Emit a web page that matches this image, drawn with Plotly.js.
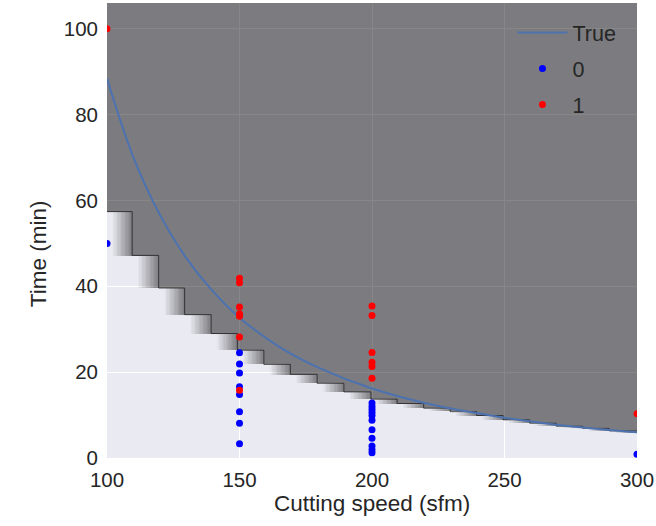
<!DOCTYPE html>
<html>
<head>
<meta charset="utf-8">
<script src="https://cdn.plot.ly/plotly-3.0.1.min.js"></script>
<style>
  html, body { margin: 0; padding: 0; background: #ffffff; }
  #chart { width: 656px; height: 526px; }
</style>
</head>
<body>
<div id="chart"></div>
<script>
// Step edges of the fitted decision boundary (cutting speed, sfm)
const stepEdges = [100, 109.5, 119.5, 129.3, 139.3, 149.2, 159.2, 169.2, 179.3, 189.4,
                   199.6, 209.5, 219.5, 229.5, 239.5, 249.5, 259.5, 269.5, 279.5, 289.5, 300];
// Boundary level (time, min) on each step
const stepLevels = [57.4, 47.2, 39.6, 33.4, 29.0, 25.1, 21.8, 19.5, 17.4, 15.4,
                    13.7, 12.7, 11.6, 10.8, 9.9, 8.9, 8.1, 7.4, 6.9, 6.3];
const stepFloor = 5.8;

// True tool-life curve
const trueSpeed = [100, 110, 120, 130, 140, 150, 165, 180, 200, 225, 250, 275, 300];
const trueTime  = [88.4, 70.0, 56.6, 46.5, 38.8, 32.7, 25.9, 21.0, 16.2, 12.1, 9.4, 7.4, 6.0];

// Observations, class 0
const class0Speed = [100,
  150, 150, 150, 150, 150, 150, 150, 150,
  200, 200, 200, 200, 200, 200, 200, 200, 200, 200, 200,
  300];
const class0Time = [50,
  24.5, 21.9, 19.8, 16.6, 14.8, 10.8, 8.1, 3.3,
  12.8, 12.0, 11.3, 10.6, 9.9, 8.8, 6.6, 4.6, 2.8, 1.9, 1.2,
  0.9];

// Observations, class 1
const class1Speed = [100,
  150, 150, 150, 150, 150, 150, 150,
  200, 200, 200, 200, 200, 200,
  300];
const class1Time = [100,
  41.9, 40.8, 35.2, 33.6, 33.0, 28.2, 15.8,
  35.4, 33.2, 24.6, 22.3, 21.3, 18.6,
  10.3];

const xRange = [100, 300];
const yRange = [0, 106];

// Shaded surface: clear below each step, dark above, ramp across the step band
const gridX = [];
const gridY = [];
for (let x = xRange[0]; x <= xRange[1] + 1e-9; x += 0.5) gridX.push(x);
for (let y = yRange[0]; y <= yRange[1] + 1e-9; y += 0.25) gridY.push(y);
const nSteps = stepLevels.length;
function stepIndex(x) {
  for (let i = 1; i < stepEdges.length; i++) if (x < stepEdges[i]) return i - 1;
  return nSteps - 1;
}
const surface = gridY.map(y => gridX.map(x => {
  const k = stepIndex(x);
  const hi = stepLevels[k];
  const lo = k + 1 < nSteps ? stepLevels[k + 1] : stepFloor;
  if (y >= hi) return 1;
  if (y < lo) return 0;
  const f = (x - stepEdges[k]) / (stepEdges[k + 1] - stepEdges[k]);
  return Math.min(1, Math.max(0, (f - 0.2) / 0.8));
}));

// Outline of the steps
const edgeX = stepEdges.slice();
const edgeY = stepLevels.concat([stepLevels[nSteps - 1]]);

const family = 'Liberation Sans, Arial, sans-serif';
const ink = '#262626';
const tickFont = { family: family, color: ink, size: 20.5 };
const titleFont = { family: family, color: ink, size: 22.5 };
const legendFont = { family: family, color: ink, size: 21.5 };

const traces = [
  {
    type: 'heatmap', x: gridX, y: gridY, z: surface,
    zmin: 0, zmax: 1, zsmooth: false,
    colorscale: [[0, 'rgba(0,0,0,0)'], [1, 'rgba(0,0,0,0.47)']],
    showscale: false, hoverinfo: 'skip', showlegend: false
  },
  {
    type: 'scatter', mode: 'lines', x: edgeX, y: edgeY,
    line: { shape: 'hv', color: 'rgba(30,30,30,0.75)', width: 1 },
    hoverinfo: 'skip', showlegend: false
  },
  {
    type: 'scatter', mode: 'lines', name: 'True', x: trueSpeed, y: trueTime,
    line: { shape: 'spline', color: '#4c72b0', width: 2 },
    legendgroup: 'a'
  },
  {
    type: 'scatter', mode: 'markers', name: '0', x: class0Speed, y: class0Time,
    marker: { color: '#0000ff', size: 7 },
    legendgroup: 'b'
  },
  {
    type: 'scatter', mode: 'markers', name: '1', x: class1Speed, y: class1Time,
    marker: { color: '#ff0000', size: 7 },
    legendgroup: 'c'
  }
];

const layout = {
  width: 656, height: 526,
  margin: { l: 107, r: 19, t: 3, b: 68 },
  paper_bgcolor: '#ffffff',
  plot_bgcolor: '#eaeaf2',
  font: { family: family, color: ink, size: 20 },
  showlegend: true,
  legend: {
    x: 0.765, y: 0.98, xanchor: 'left', yanchor: 'top',
    bgcolor: 'rgba(0,0,0,0)', borderwidth: 0,
    itemwidth: 50,
    tracegroupgap: 5,
    font: legendFont
  },
  xaxis: {
    range: xRange, tickvals: [100, 150, 200, 250, 300],
    showgrid: true, gridcolor: '#ffffff', gridwidth: 1,
    zeroline: false, showline: false, ticks: '',
    ticklabelstandoff: 7,
    tickfont: tickFont,
    automargin: false
  },
  yaxis: {
    range: yRange, tickvals: [0, 20, 40, 60, 80, 100],
    showgrid: true, gridcolor: '#ffffff', gridwidth: 1,
    zeroline: false, showline: false, ticks: '',
    ticklabelstandoff: 8,
    tickfont: tickFont,
    automargin: false
  },
  // axis titles
  annotations: [
    {
      text: 'Cutting speed (sfm)', font: titleFont, showarrow: false,
      xref: 'paper', yref: 'paper', x: 0.5, y: -0.1,
      xanchor: 'center', yanchor: 'middle'
    },
    {
      text: 'Time (min)', font: titleFont, showarrow: false, textangle: -90,
      xref: 'paper', yref: 'paper', x: -0.13, y: 0.448,
      xanchor: 'center', yanchor: 'middle'
    }
  ]
};

Plotly.newPlot('chart', traces, layout, { displayModeBar: false, staticPlot: true });
</script>
</body>
</html>
